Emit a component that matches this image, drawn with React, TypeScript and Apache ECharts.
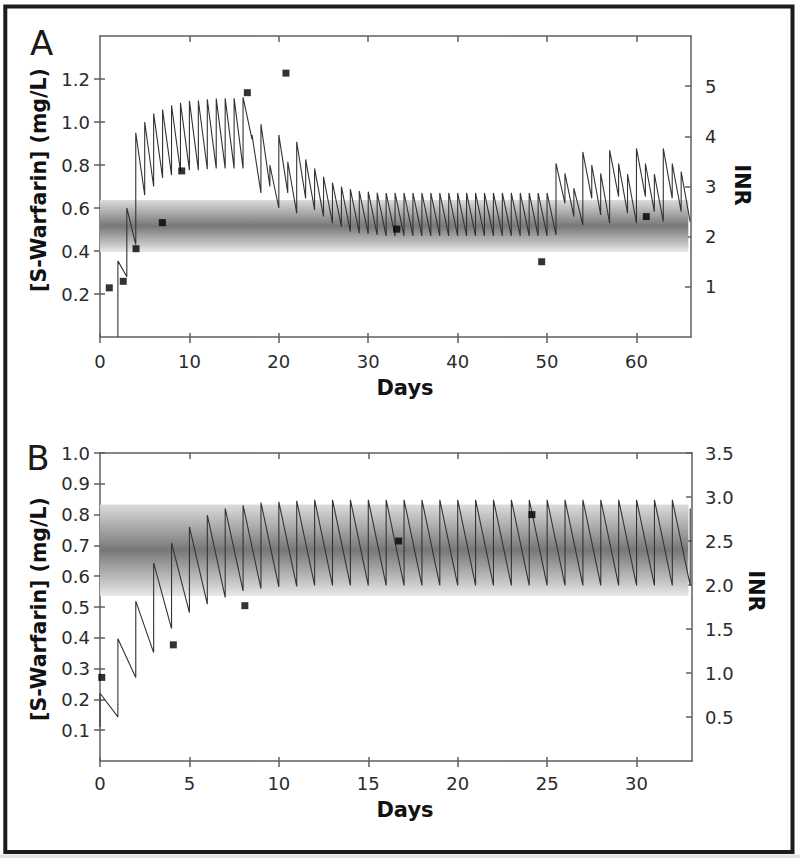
import React, { useEffect, useRef } from "react";
import * as echarts from "echarts";

// ---------- Panel A data ----------
const doseDaysA = [2,3,4,5,6,7,8,9,10,11,12,13,14,15,16,17,18,19,20,21,22,23,24,25,26,27,28,29,30,31,32,33,34,35,36,37,38,39,40,41,42,43,44,45,46,47,48,49,50,51,52,53,54,55,56,57,58,59,60,61,62,63,64,65];
const troughA = [0,0.28,0.43,0.66,0.70,0.74,0.753,0.769,0.776,0.776,0.78,0.784,0.784,0.784,0.784,
  0.92,0.67,0.70,0.60,0.67,0.576,0.645,0.591,0.56,0.529,0.513,0.49,0.483,0.48,0.475,
  0.47,0.47,0.47,0.47,0.47,0.47,0.47,0.47,0.47,0.47,0.47,0.47,0.47,0.47,0.47,0.47,0.47,0.47,0.47,0.475,
  0.622,0.56,0.521,0.645,0.568,0.529,0.653,0.576,0.529,0.653,0.583,0.537,0.645,0.583];
const peakA = [0.354,0.60,0.95,1.00,1.04,1.058,1.078,1.089,1.098,1.10,1.106,1.109,1.11,1.11,1.115,
  0.94,0.99,0.80,0.94,0.815,0.908,0.826,0.784,0.745,0.718,0.699,0.688,0.679,0.676,0.671,
  0.67,0.67,0.67,0.67,0.67,0.67,0.67,0.67,0.67,0.67,0.67,0.67,0.67,0.67,0.67,0.67,0.67,0.67,0.67,0.807,
  0.761,0.692,0.861,0.80,0.761,0.869,0.807,0.758,0.877,0.807,0.758,0.877,0.807,0.769];
const endA: [number, number] = [66, 0.537];
const inrDaysA = [1.04, 2.6, 4.03, 6.97, 9.14, 16.48, 20.8, 33.2, 49.4, 61.1];
const inrA = [0.98, 1.11, 1.76, 2.28, 3.31, 4.87, 5.26, 2.15, 1.50, 2.40];
const bandA = [0.395, 0.637];

// ---------- Panel B data ----------
const doseDaysB = [0,1,2,3,4,5,6,7,8,9,10,11,12,13,14,15,16,17,18,19,20,21,22,23,24,25,26,27,28,29,30,31,32,33];
const troughB = [0.11,0.143,0.271,0.352,0.43,0.482,0.509,0.531,0.552,0.56,0.565,0.567,
  0.57,0.57,0.57,0.57,0.57,0.57,0.57,0.57,0.57,0.57,0.57,0.57,0.57,0.57,0.57,0.57,0.57,0.57,0.57,0.57,0.57,0.57];
const peakB = [0.22,0.397,0.519,0.643,0.708,0.76,0.798,0.82,0.83,0.839,0.841,0.845,
  0.848,0.848,0.848,0.848,0.848,0.848,0.848,0.848,0.848,0.848,0.848,0.848,0.848,0.848,0.848,0.848,0.848,0.848,0.848,0.848,0.848,0.82];
const inrDaysB = [0.1, 4.1, 8.1, 16.7, 24.15];
const inrB = [0.95, 1.32, 1.765, 2.5, 2.80];
const bandB = [0.536, 0.833];

// ---------- Tick labels ----------
const xTicksA = [0, 10, 20, 30, 40, 50, 60];
const xTopTicksA = [10, 20, 30, 40, 50, 60];
const yLeftTicksA = [0.2, 0.4, 0.6, 0.8, 1.0, 1.2];
const yRightTicksA = [1, 2, 3, 4, 5];
const xTicksB = [0, 5, 10, 15, 20, 25, 30];
const xTopTicksB = [5, 10, 15, 20, 25, 30];
const yLeftTicksB = [0.1, 0.2, 0.3, 0.4, 0.5, 0.6, 0.7, 0.8, 0.9, 1.0];
const yRightTicksB = [0.5, 1.0, 1.5, 2.0, 2.5, 3.0, 3.5];

const FONT = "'DejaVu Sans', 'Liberation Sans', Arial, sans-serif";
const AXIS_COLOR = "#5f5f5f";
const LABEL_COLOR = "#2b2b2b";

function sawtooth(days: number[], lows: number[], highs: number[], end?: [number, number]) {
  const pts: [number, number][] = [];
  for (let i = 0; i < days.length; i++) {
    pts.push([days[i], lows[i]]);
    pts.push([days[i], highs[i]]);
  }
  if (end) pts.push(end);
  return pts;
}

function zip(a: number[], b: number[]) {
  return a.map((v, i) => [v, b[i]]);
}

function band() {
  return new echarts.graphic.LinearGradient(0, 0, 0, 1, [
    { offset: 0, color: "#dcdcdc" },
    { offset: 0.5, color: "#777777" },
    { offset: 1, color: "#e8e8e8" },
  ]);
}

const lineStyle = { color: AXIS_COLOR, width: 1.5 };

function xAxes(grid: number, max: number, interval: number, ticks: number[], topTicks: number[], margin: number) {
  return [
    {
      type: "value", gridIndex: grid, position: "bottom", min: 0, max, interval,
      axisLine: { show: true, onZero: false, lineStyle },
      axisTick: { show: true, inside: false, length: 6, customValues: ticks, lineStyle },
      axisLabel: { show: true, customValues: ticks, margin, fontSize: 18, color: LABEL_COLOR, fontFamily: FONT, formatter: (v: number) => String(v) },
      splitLine: { show: false },
    },
    {
      type: "value", gridIndex: grid, position: "bottom", min: 0, max, interval,
      axisLine: { show: false, onZero: false },
      axisTick: { show: true, inside: true, length: 4, customValues: ticks, lineStyle },
      axisLabel: { show: false },
      splitLine: { show: false },
    },
    {
      type: "value", gridIndex: grid, position: "top", min: 0, max, interval,
      axisLine: { show: true, onZero: false, lineStyle },
      axisTick: { show: true, inside: true, length: 6, customValues: topTicks, lineStyle },
      axisLabel: { show: false },
      splitLine: { show: false },
    },
  ];
}

function yAxes(grid: number, lmax: number, linterval: number, lticks: number[], rmax: number, rinterval: number, rticks: number[], fmtL: (v: number) => string, fmtR: (v: number) => string, rMargin: number) {
  return [
    {
      type: "value", gridIndex: grid, position: "left", min: 0, max: lmax, interval: linterval,
      axisLine: { show: true, onZero: false, lineStyle },
      axisTick: { show: true, inside: false, length: 6, customValues: lticks, lineStyle },
      axisLabel: { show: true, customValues: lticks, margin: 10, fontSize: 18, color: LABEL_COLOR, fontFamily: FONT, formatter: fmtL },
      splitLine: { show: false },
    },
    {
      type: "value", gridIndex: grid, position: "left", min: 0, max: lmax, interval: linterval,
      axisLine: { show: false, onZero: false },
      axisTick: { show: true, inside: true, length: 5, customValues: lticks, lineStyle },
      axisLabel: { show: false },
      splitLine: { show: false },
    },
    {
      type: "value", gridIndex: grid, position: "right", min: 0, max: rmax, interval: rinterval,
      axisLine: { show: true, onZero: false, lineStyle },
      axisTick: { show: true, inside: true, length: 6, customValues: rticks, lineStyle },
      axisLabel: { show: true, customValues: rticks, margin: rMargin, fontSize: 18, color: LABEL_COLOR, fontFamily: FONT, formatter: fmtR },
      splitLine: { show: false },
    },
  ];
}

export default function App() {
  const ref = useRef<HTMLDivElement>(null);
  useEffect(() => {
    if (!ref.current) return;
    const chart = echarts.init(ref.current, null, { renderer: "svg" });
    const f1 = (v: number) => v.toFixed(1);
    const f0 = (v: number) => String(Math.round(v));
    const nameStyle = { fontFamily: FONT, fontWeight: "bold", fill: "#111" };
    chart.setOption({
      animation: false,
      backgroundColor: "#ffffff",
      grid: [
        { left: 100, top: 36, width: 591, height: 301 },
        { left: 100, top: 453, width: 592, height: 308 },
      ],
      xAxis: [
        ...xAxes(0, 66.1, 10, xTicksA, xTopTicksA, 15),
        ...xAxes(1, 33.1, 5, xTicksB, xTopTicksB, 13),
      ],
      yAxis: [
        ...yAxes(0, 1.4, 0.2, yLeftTicksA, 6, 1, yRightTicksA, f1, f0, 14),
        ...yAxes(1, 1.0, 0.1, yLeftTicksB, 3.5, 0.5, yRightTicksB, f1, f1, 13),
      ],
      series: [
        {
          type: "line", xAxisIndex: 0, yAxisIndex: 0, z: 3,
          data: sawtooth(doseDaysA, troughA, peakA, endA),
          showSymbol: false, symbol: "none",
          lineStyle: { color: "#333333", width: 1.1 },
          markArea: {
            silent: true,
            itemStyle: { color: band() },
            data: [[{ xAxis: 0, yAxis: bandA[0] }, { xAxis: 65.8, yAxis: bandA[1] }]],
          },
        },
        {
          type: "scatter", xAxisIndex: 0, yAxisIndex: 2, z: 5,
          data: zip(inrDaysA, inrA), symbol: "rect", symbolSize: 7,
          itemStyle: { color: "#000" },
        },
        {
          type: "line", xAxisIndex: 3, yAxisIndex: 3, z: 3,
          data: sawtooth(doseDaysB, troughB, peakB),
          showSymbol: false, symbol: "none",
          lineStyle: { color: "#333333", width: 1.1 },
          markArea: {
            silent: true,
            itemStyle: { color: band() },
            data: [[{ xAxis: 0, yAxis: bandB[0] }, { xAxis: 32.9, yAxis: bandB[1] }]],
          },
        },
        {
          type: "scatter", xAxisIndex: 3, yAxisIndex: 5, z: 5,
          data: zip(inrDaysB, inrB), symbol: "rect", symbolSize: 7,
          itemStyle: { color: "#000" },
        },
      ],
      graphic: [
        { type: "rect", shape: { x: 5.3, y: 6.5, width: 787.2, height: 845.5 }, style: { fill: "none", stroke: "#1c1c1c", lineWidth: 4 }, silent: true },
        { type: "rect", shape: { x: 0, y: 854.5, width: 800, height: 4 }, style: { fill: "#dfe4eb" }, silent: true },
        { type: "text", x: 41.5, y: 42.5, style: { text: "A", font: `34px ${FONT}`, fill: "#1a1a1a", align: "center", verticalAlign: "middle" } },
        { type: "text", x: 38, y: 458, style: { text: "B", font: `34px ${FONT}`, fill: "#1a1a1a", align: "center", verticalAlign: "middle" } },
        { type: "text", x: 39, y: 180, rotation: Math.PI / 2, style: { ...nameStyle, text: "[S-Warfarin] (mg/L)", fontSize: 20.5, align: "center", verticalAlign: "middle" } },
        { type: "text", x: 39, y: 609, rotation: Math.PI / 2, style: { ...nameStyle, text: "[S-Warfarin] (mg/L)", fontSize: 20.5, align: "center", verticalAlign: "middle" } },
        { type: "text", x: 741.5, y: 185, rotation: -Math.PI / 2, style: { ...nameStyle, text: "INR", fontSize: 21, align: "center", verticalAlign: "middle" } },
        { type: "text", x: 756, y: 591, rotation: -Math.PI / 2, style: { ...nameStyle, text: "INR", fontSize: 21, align: "center", verticalAlign: "middle" } },
        { type: "text", x: 405, y: 388, style: { ...nameStyle, text: "Days", fontSize: 21, align: "center", verticalAlign: "middle" } },
        { type: "text", x: 405, y: 810, style: { ...nameStyle, text: "Days", fontSize: 21, align: "center", verticalAlign: "middle" } },
      ],
    });
    return () => chart.dispose();
  }, []);
  return <div ref={ref} style={{ position: "absolute", left: 0, top: 0, width: 800, height: 858, background: "#fff" }} />;
}
